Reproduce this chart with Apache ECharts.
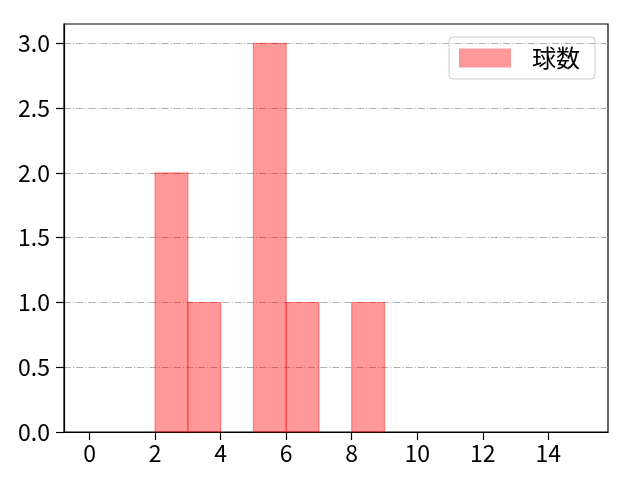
<!DOCTYPE html>
<html><head><meta charset="utf-8">
<script src="https://cdn.jsdelivr.net/npm/echarts@6/dist/echarts.min.js"></script>
<style>html,body{margin:0;padding:0;background:#fff}#c{width:640px;height:480px}</style>
</head><body><div id="c"></div>
<script>
const binStart = [2, 3, 5, 6, 8];
const binEnd = [3, 4, 6, 7, 9];
const counts = [2, 1, 3, 1, 1];
const xTicks = [0, 2, 4, 6, 8, 10, 12, 14];
const yTicks = [0, 0.5, 1.0, 1.5, 2.0, 2.5, 3.0];
const seriesName = '球数';

const FONT = 'Noto Sans CJK JP';
const chart = echarts.init(document.getElementById('c'), null, {renderer: 'canvas'});
const data = binStart.map((s, i) => [s, binEnd[i], counts[i]]);
chart.setOption({
  animation: false,
  grid: {left: 64, right: 32, top: 24, bottom: 48, show: true, borderColor: '#000', borderWidth: 1.2, backgroundColor: 'transparent'},
  legend: {
    show: true, right: 45, top: 37, orient: 'vertical',
    data: [{name: seriesName, icon: 'rect'}],
    itemWidth: 52, itemHeight: 19, itemGap: 10,
    padding: [9, 15, 9, 10],
    borderColor: '#cccccc', borderWidth: 1, borderRadius: 4,
    textStyle: {fontFamily: FONT, fontSize: 24, color: '#000', padding: [0, 0, 0, 16]}
  },
  xAxis: {
    type: 'value', min: -0.78, max: 15.82,
    axisLine: {show: true, onZero: false, lineStyle: {color: '#000', width: 1.2}},
    axisTick: {show: true, customValues: xTicks, length: 8, lineStyle: {color: '#000', width: 1.2}},
    axisLabel: {customValues: xTicks, fontFamily: FONT, fontSize: 23, color: '#000', margin: 10},
    splitLine: {show: false}
  },
  yAxis: {
    type: 'value', min: 0, max: 3.15, interval: 0.5,
    axisLine: {show: true, onZero: false, lineStyle: {color: '#000', width: 1.2}},
    axisTick: {show: true, customValues: yTicks, length: 8, lineStyle: {color: '#000', width: 1.2}},
    axisLabel: {customValues: yTicks, fontFamily: FONT, fontSize: 23, color: '#000', margin: 14,
      formatter: v => v.toFixed(1)},
    splitLine: {show: true, lineStyle: {color: '#b0b0b0', width: 1.1, type: [7, 2, 1.2, 2]}}
  },
  series: [{
    name: seriesName, type: 'custom',
    itemStyle: {color: 'rgba(255,0,0,0.4)'},
    encode: {x: [0, 1], y: 2},
    data: data,
    renderItem: function (params, api) {
      const p0 = api.coord([api.value(0), 0]);
      const p1 = api.coord([api.value(1), api.value(2)]);
      return {
        type: 'rect',
        shape: {x: p0[0], y: p1[1], width: p1[0] - p0[0], height: p0[1] - p1[1]},
        style: {fill: 'rgba(255,0,0,0.4)', stroke: 'rgba(255,0,0,0.4)', lineWidth: 1.2}
      };
    }
  }]
});
</script></body></html>
